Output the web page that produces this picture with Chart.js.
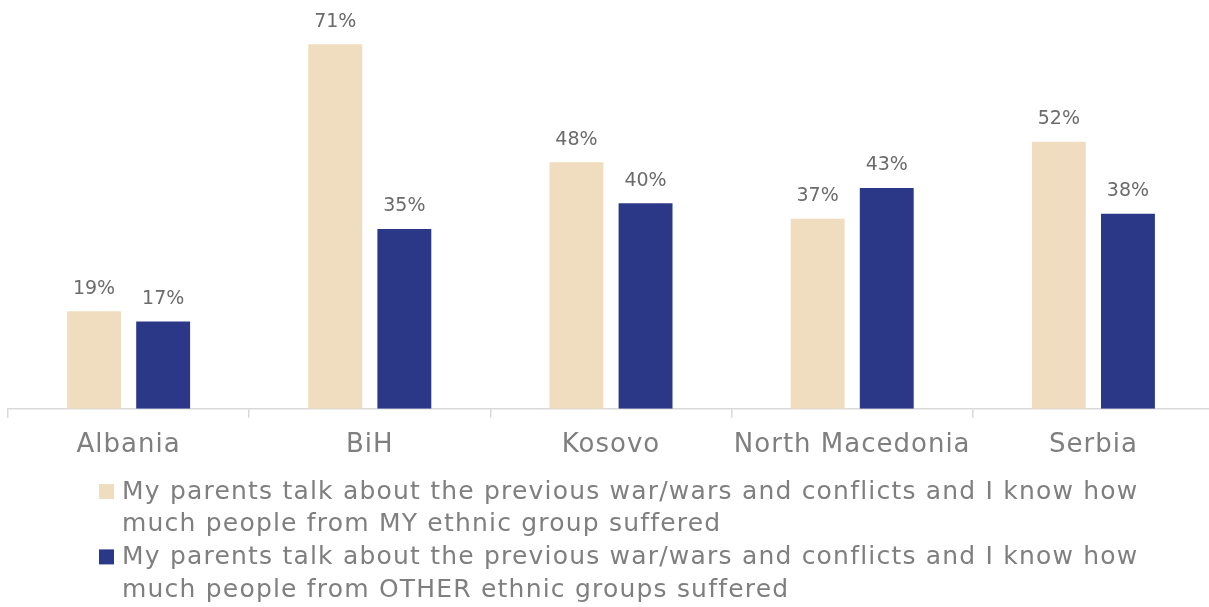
<!DOCTYPE html>
<html><head><meta charset="utf-8">
<script src="https://cdn.jsdelivr.net/npm/chart.js@4.4.0/dist/chart.umd.min.js"></script>
<style>
html,body{margin:0;padding:0;background:#fff;overflow:hidden;}
#wrap{width:1214px;height:607px;position:relative;}
</style></head>
<body><div id="wrap"><canvas id="c" width="1214" height="607"></canvas></div>
<script>
const categories = ["Albania", "BiH", "Kosovo", "North Macedonia", "Serbia"];
const myGroup = [19, 71, 48, 37, 52];
const otherGroups = [17, 35, 40, 43, 38];
const seriesLabels = [
  ["My parents talk about the previous war/wars and conflicts and I know how", "much people from MY ethnic group suffered"],
  ["My parents talk about the previous war/wars and conflicts and I know how", "much people from OTHER ethnic groups suffered"]
];
const colors = ["#F0DCBE", "#2B3888"];
const FONT = "'DejaVu Sans', sans-serif";

const spacing = {
  id: 'spacing',
  beforeDraw(chart) { chart.ctx.letterSpacing = '1px'; },
  afterDraw(chart) { chart.ctx.letterSpacing = '0px'; }
};

const dataLabels = {
  id: 'dataLabels',
  afterDatasetsDraw(chart) {
    const ctx = chart.ctx;
    ctx.save();
    ctx.letterSpacing = '0px';
    ctx.font = "19px " + FONT;
    ctx.fillStyle = "#6b6b6b";
    ctx.textAlign = "center";
    ctx.textBaseline = "bottom";
    chart.data.datasets.forEach((ds, i) => {
      chart.getDatasetMeta(i).data.forEach((bar, j) => {
        ctx.fillText(ds.data[j] + "%", bar.x, bar.y - 13);
      });
    });
    ctx.restore();
  }
};

const legendPlugin = {
  id: 'multiLegend',
  afterDraw(chart) {
    const ctx = chart.ctx;
    ctx.save();
    ctx.font = "25px " + FONT;
    ctx.letterSpacing = '1.2px';
    ctx.textBaseline = "middle";
    ctx.textAlign = "left";
    let y = 492;
    seriesLabels.forEach((lines, i) => {
      ctx.fillStyle = colors[i];
      ctx.fillRect(99, y - 8, 15, 15);
      ctx.fillStyle = "#7f7f7f";
      lines.forEach(line => {
        ctx.fillText(line, 122, y);
        y += 32.7;
      });
    });
    ctx.restore();
  }
};

new Chart(document.getElementById('c'), {
  type: 'bar',
  data: {
    labels: categories,
    datasets: [
      { label: seriesLabels[0].join(' '), data: myGroup, backgroundColor: colors[0] },
      { label: seriesLabels[1].join(' '), data: otherGroups, backgroundColor: colors[1] }
    ]
  },
  options: {
    responsive: false,
    animation: false,
    devicePixelRatio: 1,
    categoryPercentage: 0.573,
    barPercentage: 0.78,
    layout: { padding: { left: 8, right: 0, top: 0, bottom: 134 } },
    plugins: { legend: { display: false }, tooltip: { enabled: false } },
    scales: {
      x: {
        grid: { display: true, offset: true, drawOnChartArea: false, tickLength: 9, color: '#d9d9d9', lineWidth: 1.5 },
        border: { display: true, color: '#d9d9d9', width: 1.5 },
        ticks: { color: '#7f7f7f', font: { family: FONT, size: 26 }, padding: 12 }
      },
      y: {
        display: false,
        min: 0, max: 79.6
      }
    }
  },
  plugins: [spacing, dataLabels, legendPlugin]
});
</script></body></html>
